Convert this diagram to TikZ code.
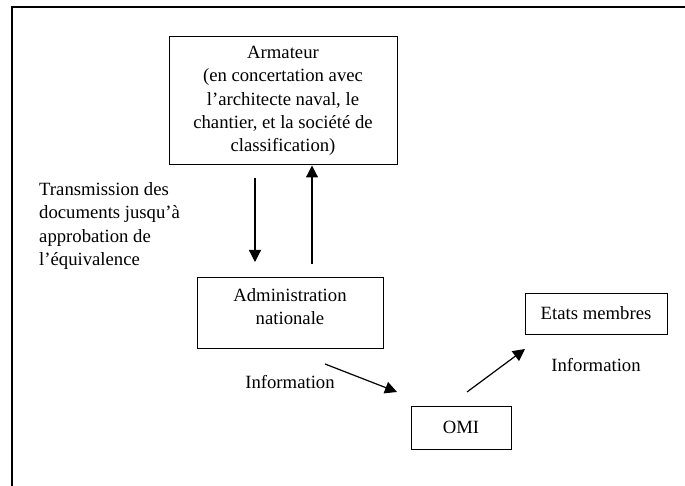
\documentclass[tikz,border=0pt]{standalone}
\usepackage{fontspec}
\setmainfont{Liberation Serif}
\usetikzlibrary{arrows.meta}
\begin{document}
\begin{tikzpicture}[x=1pt,y=-1pt,
  every node/.style={font=\fontsize{18.7}{23.2}\selectfont, inner sep=0pt},
  box/.style={draw, line width=1pt, align=center},
  link/.style={line width=1.2pt, -{Triangle[length=12pt,width=12pt]}},
  note/.style={align=left}]
  \useasboundingbox (0,0) rectangle (685,486);
  % open frame along the top and left edges
  \draw[line width=1.1pt] (12,486) -- (12,7) -- (685,7);

  % boxes
  \node[box, minimum width=228pt, minimum height=128pt] (arm) at (283,101)
    {Armateur\\(en concertation avec\\l’architecte naval, le\\chantier, et la société de\\classification)};
  \node[box, minimum width=186pt, minimum height=70pt] (adm) at (290,313) {};
  \node[align=center] (admtext) at (290,306.5) {Administration\\nationale};
  \node[box, minimum width=142pt, minimum height=41pt] (etats) at (596,313.5)
    {Etats membres};
  \node[box, minimum width=100pt, minimum height=43pt] (omi) at (461,427.5)
    {OMI};

  % labels
  \node[note, anchor=west] (trans) at (39,226)
    {Transmission des\\documents jusqu’à\\approbation de\\l’équivalence};
  \node (info1) at (290,382) {Information};
  \node (info2) at (596,365) {Information};

  % connector ends
  \coordinate (downA) at (255,178);
  \coordinate (downB) at (255,262);
  \coordinate (upA) at (312,264);
  \coordinate (admOut) at (325,364);
  \coordinate (omiIn) at (397,392);
  \coordinate (omiOut) at (467,392);
  \coordinate (etatsIn) at (525,349);

  % connectors
  \draw[link] (downA) -- (downB);
  \draw[link] (upA) -- (upA |- arm.south);
  \draw[link] (admOut) -- (omiIn);
  \draw[link] (omiOut) -- (etatsIn);
\end{tikzpicture}
\end{document}
